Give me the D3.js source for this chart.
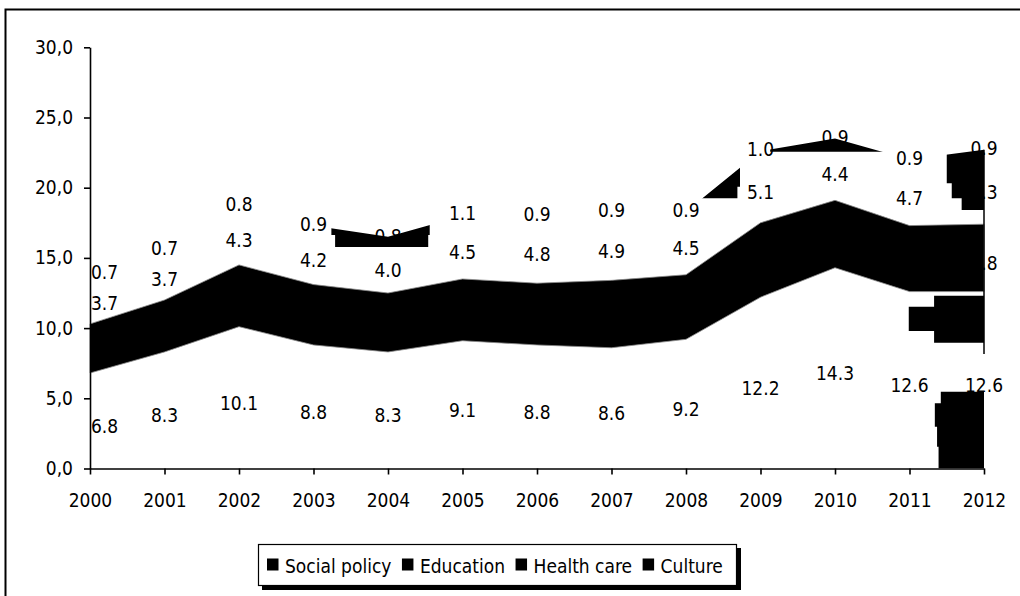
<!DOCTYPE html>
<html>
<head>
<meta charset="utf-8">
<script src="https://cdn.jsdelivr.net/npm/d3@7"></script>
<style>
  html, body { margin: 0; padding: 0; background: #fff; }
  svg { display: block; }
  text { font-family: "DejaVu Sans Condensed", "DejaVu Sans", sans-serif; font-stretch: condensed; }
</style>
</head>
<body>
<svg id="chart" width="1020" height="596"></svg>
<script>
// ---- data ----
const years = [2000, 2001, 2002, 2003, 2004, 2005, 2006, 2007, 2008, 2009, 2010, 2011, 2012];
const seriesNames = ["Social policy", "Education", "Health care", "Culture"];
const socialPolicy = [6.8, 8.3, 10.1, 8.8, 8.3, 9.1, 8.8, 8.6, 9.2, 12.2, 14.3, 12.6, 12.6];
const education    = [3.5, 3.7, 4.4, 4.3, 4.2, 4.4, 4.4, 4.8, 4.6, 5.3, 4.8, 4.7, 4.8];
const healthCare   = [3.7, 3.7, 4.3, 4.2, 4.0, 4.5, 4.8, 4.9, 4.5, 5.1, 4.4, 4.7, 5.3];
const culture      = [0.7, 0.7, 0.8, 0.9, 0.8, 1.1, 0.9, 0.9, 0.9, 1.0, 0.9, 0.9, 0.9];
const yTicks = [0, 5, 10, 15, 20, 25, 30];
// rendering-glitch tiles (in data units: years / values) where an area shows black
const glitchSeries = ["Health care", "Health care", "Health care", "Health care", "Health care",
  "Health care", "Health care", "Health care",
  "Social policy", "Social policy", "Social policy", "Social policy", "Social policy", "Social policy"];
const glitchYear0 = [2003.24, 2003.29, 2008.19, 2008.19, 2009.13, 2011.50, 2011.567, 2011.70,
  2011.33, 2010.99, 2011.42, 2011.34, 2011.37, 2011.39];
const glitchYear1 = [2004.56, 2004.54, 2008.725, 2008.69, 2010.9, 2012, 2012, 2012,
  2012, 2011.33, 2012, 2012, 2012, 2012];
const glitchVal0 = [16.63, 15.78, 20.07, 19.25, 22.56, 20.31, 19.25, 18.41,
  8.96, 9.79, 4.64, 2.98, 1.55, 0];
const glitchVal1 = [30, 30, 30, 30, 30, 30, 30, 30,
  12.31, 11.52, 5.47, 4.64, 2.98, 1.55];
const edgeLineFrom = 8.15; // right-edge stroke bottom at 2012

// ---- setup ----
const svg = d3.select("#chart");
const FONT = 19;
const x = d3.scaleLinear().domain([2000, 2012]).range([90, 984]);
const y = d3.scaleLinear().domain([0, 30]).range([468.5, 47.3]);

const table = years.map((yr, i) => ({
  year: yr,
  "Social policy": socialPolicy[i],
  "Education": education[i],
  "Health care": healthCare[i],
  "Culture": culture[i]
}));
const stacked = d3.stack().keys(seriesNames)(table);
const byName = {};
stacked.forEach(s => byName[s.key] = s);

// outer frame
svg.append("rect").attr("x", 5.5).attr("y", 9.5).attr("width", 1040).attr("height", 620)
  .attr("fill", "#fff").attr("stroke", "#000").attr("stroke-width", 2);

const area = d3.area()
  .x(d => x(d.data.year))
  .y0(d => y(d[0]))
  .y1(d => y(d[1]));

// Education band (black)
svg.append("path").datum(byName["Education"])
  .attr("d", area).attr("fill", "#000")
  .attr("stroke", "#8a8a8a").attr("stroke-width", 0.8);

// glitch tiles
const defs = svg.append("defs");
seriesNames.forEach((name, si) => {
  const idx = glitchSeries.map((s, i) => s === name ? i : -1).filter(i => i >= 0);
  if (!idx.length) return;
  const cp = defs.append("clipPath").attr("id", "clip" + si);
  idx.forEach(i => {
    cp.append("rect")
      .attr("x", x(glitchYear0[i])).attr("width", x(glitchYear1[i]) - x(glitchYear0[i]))
      .attr("y", y(glitchVal1[i])).attr("height", y(glitchVal0[i]) - y(glitchVal1[i]));
  });
  svg.append("path").datum(byName[name])
    .attr("d", area).attr("fill", "#000")
    .attr("clip-path", "url(#clip" + si + ")");
});

// right edge stroke
const lastIdx = years.length - 1;
svg.append("line")
  .attr("x1", x(years[lastIdx])).attr("x2", x(years[lastIdx]))
  .attr("y1", y(byName["Health care"][lastIdx][1])).attr("y2", y(edgeLineFrom))
  .attr("stroke", "#000").attr("stroke-width", 1.5);

// data labels
const labelG = svg.append("g").attr("clip-path", "url(#labelClip)");
defs.append("clipPath").attr("id", "labelClip").append("rect")
  .attr("x", x(2000) + 1).attr("y", 0).attr("width", 1020).attr("height", 596);
stacked.forEach(s => {
  s.forEach((d, i) => {
    const first = i === 0;
    labelG.append("text")
      .attr("x", first ? x(d.data.year) + 1 : x(d.data.year))
      .attr("y", y((d[0] + d[1]) / 2) + 5)
      .attr("text-anchor", first ? "start" : "middle")
      .attr("dominant-baseline", "central")
      .attr("font-size", FONT)
      .attr("fill", "#000")
      .text(d.data[s.key].toFixed(1));
  });
});

// axes
const yAxis = d3.axisLeft(y).tickValues(yTicks).tickSize(6).tickSizeOuter(0).tickPadding(11)
  .tickFormat(d => d.toFixed(1).replace(".", ","));
const gy = svg.append("g").attr("transform", "translate(90,0)").call(yAxis);
const xAxis = d3.axisBottom(x).tickValues(years).tickSize(6).tickSizeOuter(0).tickPadding(19)
  .tickFormat(d3.format("d"));
const gx = svg.append("g").attr("transform", "translate(0,468.5)").call(xAxis);
[gx, gy].forEach(g => {
  g.selectAll("path.domain").attr("stroke", "#000").attr("stroke-width", 1.6);
  g.selectAll(".tick line").attr("stroke", "#000").attr("stroke-width", 1.6);
  g.selectAll("text").attr("font-size", FONT).attr("fill", "#000")
    .attr("font-family", "'DejaVu Sans Condensed', 'DejaVu Sans', sans-serif");
});

// legend
const lg = svg.append("g");
lg.append("rect").attr("x", 262).attr("y", 548).attr("width", 479).attr("height", 42).attr("fill", "#000");
lg.append("rect").attr("x", 258.5).attr("y", 544.5).attr("width", 478).attr("height", 41)
  .attr("fill", "#fff").attr("stroke", "#000").attr("stroke-width", 1.2);
let cx = 267;
seriesNames.forEach(name => {
  lg.append("rect").attr("x", cx).attr("y", 558.5).attr("width", 11.5).attr("height", 12).attr("fill", "#000");
  const t = lg.append("text").attr("x", cx + 18).attr("y", 565.5)
    .attr("dominant-baseline", "central").attr("font-size", FONT).attr("fill", "#000").text(name);
  cx = cx + 18 + t.node().getComputedTextLength() + 10.5;
});
</script>
</body>
</html>
